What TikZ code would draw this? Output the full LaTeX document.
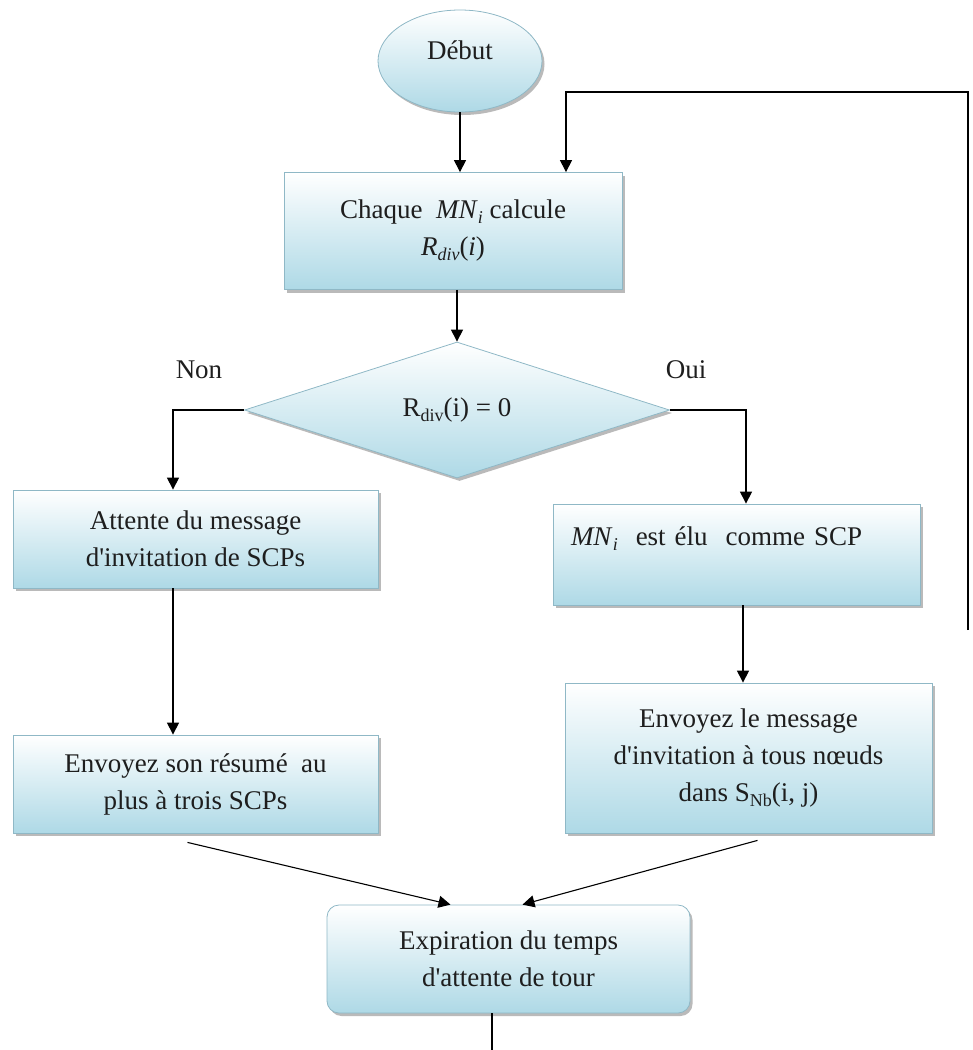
\documentclass[tikz,border=0pt]{standalone}
\usepackage{fontspec}
\setmainfont{Liberation Serif}
\usetikzlibrary{shapes.geometric,shadows,arrows.meta,calc}
\definecolor{boxblue}{HTML}{AED9E6}
\definecolor{boxedge}{HTML}{8FB8C6}
\definecolor{ink}{HTML}{1E1E1E}
% lowered index in a smaller size
\newcommand\lowidx[1]{\raisebox{-5pt}{\fontsize{18}{18}\selectfont #1}}
% straight apostrophe
\newcommand\apos{\textquotesingle}

\begin{document}
\begin{tikzpicture}[x=1pt,y=-1pt,
  every node/.style={font=\fontsize{27}{37}\selectfont, text=ink},
  flowbox/.style={draw=boxedge, line width=0.8pt, top color=white, bottom color=boxblue,
    drop shadow={shadow xshift=2.5pt, shadow yshift=-3pt, fill=black!45, opacity=.6},
    align=center, inner sep=0pt},
  arr/.style={draw=black, line width=1.1pt, -{Triangle[width=12pt,length=12pt]}},
  plain/.style={draw=black, line width=1.1pt}]
\useasboundingbox (0,0) rectangle (973,1050);

% steps
\node[flowbox, ellipse, minimum width=164pt, minimum height=102pt,
      text height=19pt, text depth=23pt] (debut) at (460,61) {Début};
\node[flowbox, minimum width=338pt, minimum height=117pt] (b1) at (453,231)
  {Chaque\ \ \textit{MN}\lowidx{\textit{i}} calcule\\\textit{R}\lowidx{\textit{div}}(\textit{i})};
\node[flowbox, diamond, minimum width=425pt, minimum height=136pt, aspect=3.1] (dia) at (457,410)
  {R\lowidx{div}(i) = 0};
\node[flowbox, minimum width=365pt, minimum height=98pt] (b2) at (195.5,539)
  {Attente du message\\d\apos invitation de SCPs};
\node[flowbox, minimum width=367pt, minimum height=101pt, text width=331pt, align=left] (b3) at (736.5,554.5)
  {\textit{MN}\lowidx{\textit{i}}\ \ est élu\ \ comme SCP\\\mbox{}};
\node[flowbox, minimum width=365pt, minimum height=98pt] (b4) at (195.5,784)
  {Envoyez son résumé\ \ au\\plus à trois SCPs};
\node[flowbox, minimum width=367pt, minimum height=150pt] (b5) at (748.5,758)
  {Envoyez le message\\d\apos invitation à tous nœuds\\dans S\lowidx{Nb}(i, j)};
\node[flowbox, rounded corners=12pt, minimum width=363pt, minimum height=108pt] (b6) at (508.5,959)
  {Expiration du temps\\d\apos attente de tour};

% branch labels
\node (non) at (199,370) {Non};
\node (oui) at (686,370) {Oui};

% guide coordinates
\coordinate (xnon) at (173,0);
\coordinate (xoui) at (746,0);
\coordinate (xmid) at (743,0);
\coordinate (tail) at (492,1050);
\coordinate (loopend) at (968,630);
\coordinate (loopturn) at (566,92);

% connectors
\draw[arr] (debut.south) -- (debut.south |- b1.north);
\draw[arr] (b1.south -| dia.north) -- (dia.north);
\draw[arr] (dia.west) -| (xnon |- b2.north);
\draw[arr] (dia.east) -| (xoui |- b3.north);
\draw[arr] (b2.south -| xnon) -- (b4.north -| xnon);
\draw[arr] (b3.south -| xmid) -- (b5.north -| xmid);
\draw[arr] ($(b4.south)+(-8,9)$) -- ($(b6.north)+(-58,0)$);
\draw[arr] ($(b5.south)+(9,7)$) -- ($(b6.north)+(14,0)$);
\draw[plain] (b6.south -| tail) -- (tail);
\draw[arr] (loopend) |- (loopturn) -- (loopturn |- b1.north);
\end{tikzpicture}
\end{document}
